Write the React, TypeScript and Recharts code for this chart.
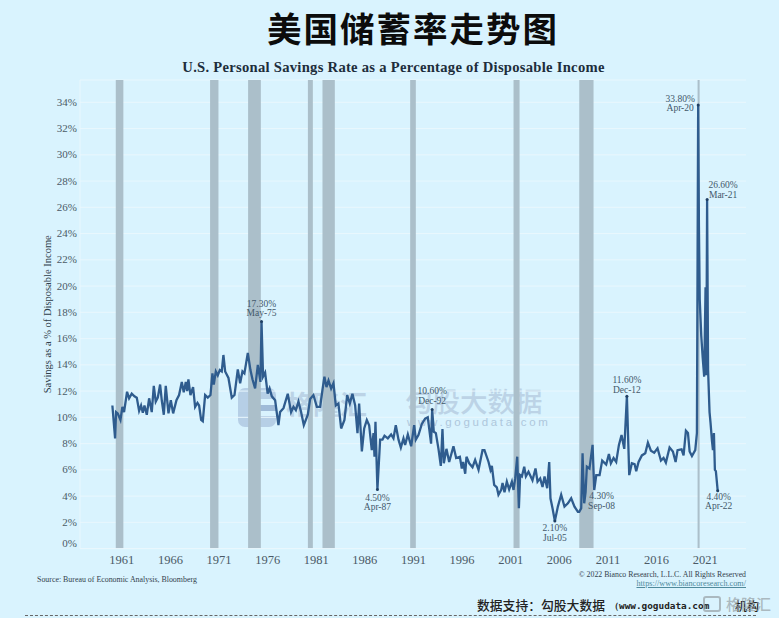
import React from "react";
import {
  ComposedChart,
  Line,
  XAxis,
  YAxis,
  CartesianGrid,
  ReferenceArea,
  ReferenceDot,
} from "recharts";

const savingsYears: number[] = [
  1960.03, 1960.31, 1960.41, 1960.58, 1960.86, 1961.06, 1961.23, 1961.54, 1961.75, 1962.02, 1962.3, 1962.54,
  1962.78, 1962.98, 1963.16, 1963.33, 1963.57, 1963.81, 1964.08, 1964.29, 1964.49, 1964.7, 1964.94, 1965.11,
  1965.32, 1965.52, 1965.8, 1966.04, 1966.28, 1966.62, 1966.89, 1967.17, 1967.37, 1967.58, 1967.72, 1967.85,
  1968.06, 1968.33, 1968.54, 1968.78, 1968.95, 1969.16, 1969.33, 1969.57, 1969.84, 1970.12, 1970.32, 1970.46,
  1970.67, 1970.87, 1971.08, 1971.28, 1971.45, 1971.63, 1971.97, 1972.31, 1972.59, 1972.93, 1973.17, 1973.41,
  1973.61, 1973.96, 1974.23, 1974.44, 1974.71, 1974.99, 1975.26, 1975.37, 1975.53, 1975.74,
  1976.0, 1976.2, 1976.43, 1976.77, 1977.11, 1977.28, 1977.63, 1978.07, 1978.41, 1978.66, 1978.9, 1979.17,
  1979.44, 1979.72, 1980.13, 1980.37, 1980.71, 1981.06, 1981.4, 1981.64, 1981.84, 1982.05, 1982.26, 1982.53,
  1982.77, 1983.01, 1983.28, 1983.56, 1983.9, 1984.18, 1984.45, 1984.72, 1985.0, 1985.24, 1985.41, 1985.69,
  1985.93, 1986.2, 1986.44, 1986.71, 1986.89, 1986.99, 1987.09, 1987.29, 1987.57, 1987.81, 1988.02, 1988.36,
  1988.7, 1988.94, 1989.18, 1989.46, 1989.7, 1989.97, 1990.14, 1990.42, 1990.76, 1991.07, 1991.24, 1991.51,
  1991.86, 1992.2, 1992.47, 1992.81, 1992.92,
  1993.09, 1993.3, 1993.57, 1993.81, 1993.98, 1994.12, 1994.39, 1994.67, 1995.11, 1995.39, 1995.77, 1995.97,
  1996.11, 1996.32, 1996.45, 1996.73, 1997.07, 1997.34, 1997.69, 1998.1, 1998.3, 1998.72, 1998.92, 1999.06,
  1999.3, 1999.57, 1999.74, 2000.02, 2000.16, 2000.36, 2000.6, 2000.84, 2001.12, 2001.29, 2001.46, 2001.67,
  2001.84, 2001.97, 2002.15, 2002.39, 2002.56, 2002.83, 2003.24, 2003.55, 2003.76, 2004.03, 2004.27, 2004.48,
  2004.75, 2004.96, 2005.09, 2005.3, 2005.54, 2005.85, 2006.19, 2006.53, 2006.88, 2007.22, 2007.56, 2007.91,
  2008.05, 2008.25, 2008.39, 2008.56, 2008.7, 2008.83, 2009.1, 2009.42, 2009.59, 2009.8, 2010.14, 2010.41,
  2010.82, 2011.1, 2011.3, 2011.58, 2011.85, 2012.13, 2012.4, 2012.68, 2012.95, 2013.19, 2013.46, 2013.74,
  2013.91, 2014.15, 2014.49, 2014.84, 2015.11, 2015.42, 2015.76, 2016.1, 2016.45, 2016.72, 2016.96, 2017.34,
  2017.68, 2017.96, 2018.16, 2018.57, 2018.78, 2019.02, 2019.23, 2019.4, 2019.64, 2019.98, 2020.15, 2020.28,
  2020.36, 2020.44, 2020.6, 2020.75, 2020.9, 2021.04, 2021.12, 2021.2, 2021.3, 2021.45, 2021.55, 2021.7,
  2021.8, 2021.9, 2022.0, 2022.1, 2022.29,
];

const savingsRates: number[] = [
  10.9, 8.4, 10.4, 10.3, 9.8, 10.8, 10.4, 11.95, 11.45, 11.8, 11.6, 11.5,
  10.5, 10.9, 10.35, 10.9, 10.2, 11.45, 10.4, 12.4, 11.2, 11.5, 12.5, 11.3,
  10.2, 12.4, 10.3, 11.3, 10.3, 11.3, 11.7, 12.7, 11.9, 12.7, 12.0, 12.9,
  11.7, 12.3, 10.8, 11.1, 10.9, 9.8, 9.7, 11.7, 11.5, 11.7, 13.35, 12.5,
  13.5, 13.2, 13.6, 13.5, 14.75, 13.5, 13.0, 11.5, 11.7, 13.65, 12.6, 13.5,
  13.35, 14.9, 13.6, 12.9, 12.2, 14.0, 12.7, 17.3, 13.1, 13.4,
  11.8, 12.2, 11.6, 11.3, 9.4, 10.4, 10.7, 11.8, 10.4, 10.8, 10.55, 11.2,
  10.4, 9.4, 10.2, 11.4, 11.7, 10.8, 10.8, 12.1, 13.1, 12.3, 12.8, 12.2,
  12.6, 10.9, 11.05, 9.15, 9.8, 11.7, 11.05, 11.8, 10.9, 8.8, 11.05, 7.4,
  9.15, 9.8, 9.4, 7.5, 8.8, 7.0, 9.66, 4.5, 8.3, 8.3, 8.6, 8.4,
  8.7, 8.4, 9.4, 8.3, 7.7, 8.4, 7.9, 8.7, 7.8, 9.4, 8.3, 8.65,
  9.5, 9.9, 10.0, 8.0, 10.6,
  8.9, 8.8, 7.6, 6.3, 9.1, 6.5, 7.6, 6.6, 7.8, 6.9, 7.0, 6.1,
  6.6, 5.7, 7.0, 6.5, 6.2, 6.75, 6.0, 7.5, 7.5, 6.6, 6.0, 6.3,
  4.85, 4.67, 4.1, 4.47, 5.0, 4.3, 5.1, 4.5, 5.1, 4.47, 5.35, 7.0,
  3.07, 5.6, 5.5, 6.24, 5.5, 5.86, 5.2, 6.1, 5.1, 5.35, 4.7, 5.5,
  4.6, 6.6, 3.83, 3.07, 2.1, 3.2, 4.1, 3.2, 3.45, 3.83, 3.2, 2.8,
  2.8, 3.07, 7.26, 3.45, 4.3, 6.24, 6.1, 7.9, 4.46, 5.6, 5.6, 6.7,
  6.4, 7.2, 6.5, 6.9, 6.6, 7.9, 8.65, 7.6, 11.6, 5.6, 6.5, 6.44,
  5.9, 6.6, 7.1, 7.26, 8.07, 7.46, 7.3, 7.64, 6.7, 6.9, 6.55, 7.7,
  7.4, 6.6, 7.5, 7.56, 7.1, 8.98, 8.8, 7.4, 7.05, 7.5, 8.8, 33.8,
  24.5, 19.0, 16.2, 14.5, 13.1, 19.9, 13.2, 26.6, 13.6, 10.4, 9.6, 8.2,
  7.5, 8.8, 6.0, 5.9, 4.4,
];

const recessionStarts = [1960.38, 1970.08, 1973.99, 1980.14, 1981.64, 1990.66, 2001.29, 2008.05, 2020.22];
const recessionEnds = [1961.16, 1970.94, 1975.3, 1980.65, 1982.91, 1991.24, 2001.91, 2009.52, 2020.43];

const xTicks = [1961, 1966, 1971, 1976, 1981, 1986, 1991, 1996, 2001, 2006, 2011, 2016, 2021];
const yTicks = [0, 2, 4, 6, 8, 10, 12, 14, 16, 18, 20, 22, 24, 26, 28, 30, 32, 34];

const noteYears = [1975.37, 1987.29, 1992.92, 2005.54, 2008.7, 2012.95, 2020.28, 2021.2, 2022.29];
const noteRates = [17.3, 4.5, 10.6, 2.1, 4.3, 11.6, 33.8, 26.6, 4.4];
const noteValues = ["17.30%", "4.50%", "10.60%", "2.10%", "4.30%", "11.60%", "33.80%", "26.60%", "4.40%"];
const noteDates = ["May-75", "Apr-87", "Dec-92", "Jul-05", "Sep-08", "Dec-12", "Apr-20", "Mar-21", "Apr-22"];

const noteShift: [number, number][] = [
  [0, -10], [0, 7], [0, -10], [0, 6], [16, 3], [0, -8], [-18, 2], [16, -6], [1, 5],
];
const noteDot = [true, true, true, true, false, true, true, true, true];

const chartData = savingsYears.map((year, i) => ({ year, rate: savingsRates[i] }));

const SERIF = '"Liberation Serif", serif';
const CJK = '"Noto Sans CJK SC", sans-serif';
const BG = "#d9f3fe";
const GRID = "#e9f7fd";
const TICK = "#4b5a66";

const YTick = (props: any) => {
  const { x, y, payload } = props;
  const lift = payload.value === 0 ? -5 : 0;
  return (
    <text x={x + 5} y={y + lift} dy={3.5} textAnchor="end" fontSize={11} fontFamily={SERIF} fill={TICK}>
      {payload.value}%
    </text>
  );
};

const abs = (s: React.CSSProperties): React.CSSProperties => ({
  position: "absolute",
  whiteSpace: "nowrap",
  lineHeight: 1,
  margin: 0,
  ...s,
});

export default function App() {
  return (
    <div style={{ position: "fixed", left: 0, top: 0, width: 779, height: 618, background: BG, overflow: "hidden" }}>
      {/* watermark, behind the chart */}
      <svg style={{ position: "absolute", left: 0, top: 0 }} width={779} height={618}>
        <rect x={238} y={388} width={38} height={39} rx={7} fill="#b6cfe6" />
        <rect x={250} y={399} width={26} height={17} fill={BG} />
        <rect x={256} y={405} width={20} height={6} fill="#9fbbd8" />
      </svg>
      <div style={abs({ left: 286, top: 390, fontFamily: CJK, fontSize: 27, color: "#bcd3e6", fontWeight: 700 })}>格隆汇</div>
      <div style={abs({ left: 405, top: 387, fontFamily: CJK, fontSize: 27.5, color: "#bcd3e6", fontWeight: 500 })}>勾股大数据</div>
      <div style={abs({ left: 407, top: 417, fontFamily: '"Liberation Sans", sans-serif', fontSize: 11.5, color: "#aec7dc", letterSpacing: 2.7 })}>www.gogudata.com</div>

      <ComposedChart
        width={779}
        height={618}
        data={chartData}
        margin={{ top: 80, right: 33, bottom: 39.4, left: 0 }}
        style={{ position: "absolute", left: 0, top: 0 }}
      >
        {recessionStarts.map((start, i) => (
          <ReferenceArea
            key={start}
            x1={start}
            x2={recessionEnds[i]}
            fill="#abbfca"
            fillOpacity={1}
            stroke="none"
          />
        ))}
        <CartesianGrid horizontal vertical={false} stroke={GRID} strokeWidth={1} />
        <XAxis
          type="number"
          dataKey="year"
          domain={[1956.7, 2025.2]}
          ticks={xTicks}
          height={30}
          allowDataOverflow
          interval={0}
          tickLine={false}
          axisLine={{ stroke: GRID }}
          tickMargin={1}
          tick={{ fontSize: 12.5, fontFamily: SERIF, fill: TICK }}
        />
        <YAxis
          type="number"
          domain={[0, 35.7]}
          ticks={yTicks}
          width={80}
          allowDataOverflow
          interval={0}
          tickLine={false}
          axisLine={{ stroke: GRID }}
          tick={<YTick />}
          label={{
            value: "Savings as a % of Disposable Income",
            angle: -90,
            position: "insideLeft",
            dx: 42,
            dy: 0,
            style: { fontSize: 10.5, fontFamily: SERIF, fill: "#2f3d4a", textAnchor: "middle" },
          }}
        />
        <Line
          type="linear"
          dataKey="rate"
          stroke="#2f5c8e"
          strokeWidth={2.3}
          dot={false}
          isAnimationActive={false}
        />
        {noteYears.map((year, i) => (
          <ReferenceDot
            key={noteDates[i]}
            x={year}
            y={noteRates[i]}
            r={1.5}
            shape={(p: any) => {
              const cx = p.cx + noteShift[i][0];
              const base = p.cy + noteShift[i][1];
              const below = i === 1 || i === 3 || i === 4 || i === 8;
              const y1 = below ? base + 4 : base - 5;
              return (
                <g>
                  {noteDot[i] && <circle cx={p.cx} cy={p.cy} r={1.5} fill="#1f3f63" />}
                  <text x={cx} y={y1} textAnchor="middle" fontSize={9.5} fontFamily={SERIF} fill="#43586a">
                    {noteValues[i]}
                  </text>
                  <text x={cx} y={y1 + 9.5} textAnchor="middle" fontSize={9.5} fontFamily={SERIF} fill="#43586a">
                    {noteDates[i]}
                  </text>
                </g>
              );
            }}
          />
        ))}
      </ComposedChart>

      <div style={abs({ left: 0, width: 826, top: 10, textAlign: "center", fontFamily: CJK, fontWeight: 700, fontSize: 34.5, letterSpacing: 2, color: "#0c0c0c" })}>
        美国储蓄率走势图
      </div>
      <div style={abs({ left: 0, width: 787, top: 60, textAlign: "center", fontFamily: SERIF, fontWeight: 700, fontSize: 14.6, letterSpacing: 0.28, color: "#1d2d3b" })}>
        U.S. Personal Savings Rate as a Percentage of Disposable Income
      </div>
      <div style={abs({ left: 37, top: 576, fontFamily: SERIF, fontSize: 7.9, color: "#33414d" })}>
        Source: Bureau of Economic Analysis, Bloomberg
      </div>
      <div style={abs({ right: 33, top: 571, fontFamily: SERIF, fontSize: 7.8, color: "#33414d" })}>
        © 2022 Bianco Research, L.L.C. All Rights Reserved
      </div>
      <div style={abs({ right: 33, top: 580, fontFamily: SERIF, fontSize: 8.2, color: "#4f8a9c", textDecoration: "underline" })}>
        https://www.biancoresearch.com/
      </div>
      <div style={abs({ left: 477, top: 599, fontFamily: CJK, fontWeight: 500, fontSize: 12.8, color: "#222" })}>
        数据支持：勾股大数据
      </div>
      <div style={abs({ left: 610, top: 601, fontFamily: '"DejaVu Sans Mono", monospace', fontWeight: 700, fontSize: 9.4, color: "#222" })}>
        （www.gogudata.com
      </div>
      <div style={abs({ left: 735, top: 600, fontFamily: CJK, fontWeight: 500, fontSize: 12, color: "#222" })}>
        机构
      </div>
      <div style={abs({ left: 703, top: 596, fontFamily: CJK, fontWeight: 500, fontSize: 15, color: "rgba(150,160,165,0.7)" })}>
        <span style={{ display: "inline-block", width: 18, height: 16, border: "2px solid rgba(150,160,165,0.7)", borderRadius: 3, marginRight: 5, boxSizing: "border-box", verticalAlign: "top" }} />
        格隆汇
      </div>
      <div style={{ position: "absolute", left: 25, width: 731, top: 615, borderTop: "1px dashed #666" }} />
    </div>
  );
}
